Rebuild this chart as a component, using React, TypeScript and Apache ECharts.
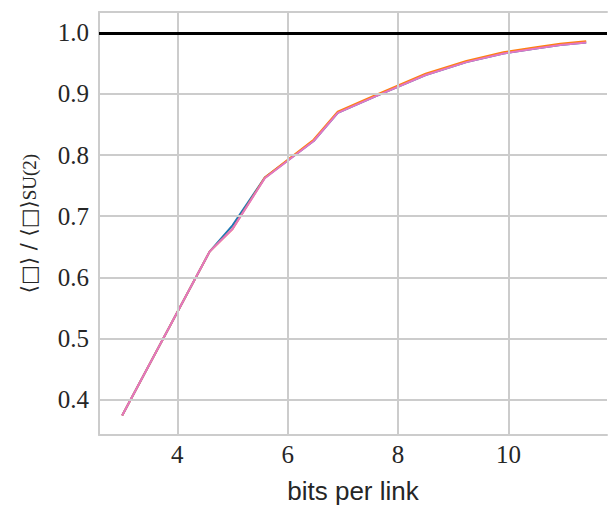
import React, { useEffect, useRef } from "react";
import * as echarts from "echarts";

// bits per link (x) and normalised ratio (y) for each series
const bits = [3.0, 4.585, 5.0, 5.585, 6.47, 6.907, 7.59, 8.5, 9.24, 9.91, 10.47, 10.94, 11.41];
const ratioBlue = [0.374, 0.642, 0.685, 0.763, 0.823, 0.869, 0.896, 0.931, 0.952, 0.966, 0.974, 0.980, 0.984];
const ratioOrange = [0.374, 0.642, 0.679, 0.763, 0.825, 0.871, 0.898, 0.933, 0.954, 0.968, 0.976, 0.982, 0.986];
const ratioPink = [0.374, 0.642, 0.679, 0.762, 0.823, 0.869, 0.896, 0.931, 0.952, 0.966, 0.974, 0.980, 0.984];
const referenceLevel = 1.0;

const xTicks = [4, 6, 8, 10];
const yTicks = [0.4, 0.5, 0.6, 0.7, 0.8, 0.9, 1.0];

const pairs = (ys: number[]) => bits.map((x, i) => [x, ys[i]]);

export default function App() {
  const ref = useRef<HTMLDivElement>(null);
  useEffect(() => {
    document.body.style.margin = "0";
    const chart = echarts.init(ref.current!, undefined, { renderer: "svg" });
    const textColor = "#262626";
    const gridColor = "#cccccc";
    chart.setOption({
      animation: false,
      backgroundColor: "#ffffff",
      grid: {
        left: 99,
        top: 12,
        right: 0,
        bottom: 70,
        show: false,
      },
      xAxis: [
        {
          type: "value",
          min: 2.58,
          max: 11.787,
          interval: 0.02,
          axisLine: { show: true, lineStyle: { color: gridColor, width: 2 } },
          axisTick: { show: false },
          splitLine: { show: false },
          axisLabel: {
            margin: 7,
            fontFamily: "Liberation Serif",
            fontSize: 25,
            color: textColor,
            formatter: (v: number) => {
              const r = Math.round(v);
              return Math.abs(v - r) < 1e-6 && xTicks.includes(r) ? String(r) : "";
            },
          },
          name: "bits per link",
          nameLocation: "middle",
          nameGap: 43,
          nameTextStyle: { fontFamily: "Liberation Sans", fontSize: 26, color: textColor },
        },
        {
          type: "value",
          position: "top",
          min: 2.58,
          max: 11.787,
          axisLine: { show: true, onZero: false, lineStyle: { color: gridColor, width: 2 } },
          axisTick: { show: false },
          axisLabel: { show: false },
          splitLine: { show: false },
        },
      ],
      yAxis: {
        type: "value",
        min: 0.342,
        max: 1.034,
        interval: 0.002,
        axisLine: { show: true, lineStyle: { color: gridColor, width: 2 } },
        axisTick: { show: false },
        splitLine: { show: false },
        axisLabel: {
          margin: 10,
          fontFamily: "Liberation Serif",
          fontSize: 25,
          color: textColor,
          formatter: (v: number) => {
            const r = Math.round(v * 10) / 10;
            return Math.abs(v - r) < 1e-6 && yTicks.some((t) => Math.abs(t - r) < 1e-9)
              ? r.toFixed(1)
              : "";
          },
        },
        name: "{a|⟨□⟩ / ⟨□⟩}{b|SU(2)}",
        nameLocation: "middle",
        nameGap: 60,
        nameTextStyle: {
          color: textColor,
          rich: {
            a: { fontFamily: "DejaVu Sans", fontSize: 21, color: textColor },
            b: { fontFamily: "Liberation Serif", fontSize: 19, color: textColor, verticalAlign: "bottom" },
          },
        },
      },
      series: [
        {
          type: "line",
          z: 0,
          data: [[bits[0], ratioPink[0]]],
          showSymbol: false,
          lineStyle: { opacity: 0 },
          silent: true,
          markLine: {
            silent: true,
            symbol: "none",
            label: { show: false },
            lineStyle: { color: gridColor, width: 2, type: "solid" },
            data: [
              ...xTicks.map((v) => ({ xAxis: v })),
              ...yTicks.map((v) => ({ yAxis: v })),
            ],
          },
        },
        {
          type: "line",
          z: 1,
          data: [[bits[0], referenceLevel]],
          showSymbol: false,
          lineStyle: { opacity: 0 },
          silent: true,
          markLine: {
            silent: true,
            symbol: "none",
            label: { show: false },
            lineStyle: { color: "#000000", width: 3, type: "solid" },
            data: [{ yAxis: referenceLevel }],
          },
        },
        {
          type: "line",
          z: 2,
          data: pairs(ratioBlue),
          showSymbol: false,
          lineStyle: { color: "#1f77b4", width: 2 },
          itemStyle: { color: "#1f77b4" },
        },
        {
          type: "line",
          z: 3,
          data: pairs(ratioOrange),
          showSymbol: false,
          lineStyle: { color: "#ff7f0e", width: 2 },
          itemStyle: { color: "#ff7f0e" },
        },
        {
          type: "line",
          z: 4,
          data: pairs(ratioPink),
          showSymbol: false,
          lineStyle: { color: "#e377c2", width: 2 },
          itemStyle: { color: "#e377c2" },
        },
      ],
    });
    return () => chart.dispose();
  }, []);
  return (
    <div
      ref={ref}
      style={{ position: "absolute", left: 0, top: 0, width: 610, height: 509, background: "#fff" }}
    />
  );
}
